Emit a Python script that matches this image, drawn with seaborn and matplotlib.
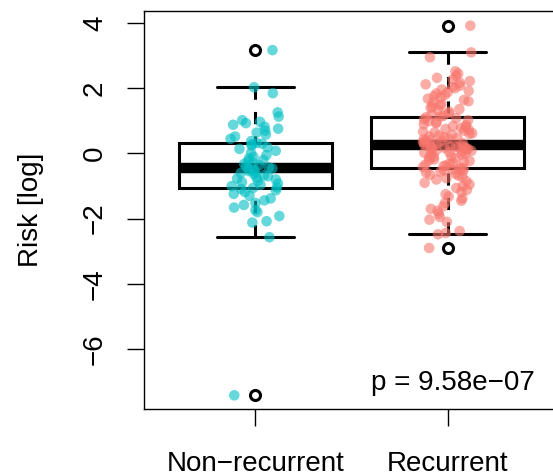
import matplotlib

matplotlib.use("Agg")
import matplotlib.pyplot as plt
import numpy as np
import pandas as pd
import seaborn as sns

# group labels (R prints the hyphen as a minus sign)
GROUPS = ["Non\u2212recurrent", "Recurrent"]
PALETTE = ["#00BFC4", "#F8766D"]
P_LABEL = "p = 9.58e\u221207"

# log risk per patient
NON_RECURRENT = [
    -7.42, -2.57, -2.12, -2.08, -1.92, -1.80, -1.74, -1.66, -1.58, -1.52,
    -1.44, -1.38, -1.30, -1.24, -1.18, -1.13, -1.09, -1.06, -1.04, -1.00,
    -0.96, -0.92, -0.88, -0.84, -0.80, -0.77, -0.74, -0.70, -0.67, -0.63,
    -0.60, -0.57, -0.54, -0.51, -0.48, -0.46, -0.43, -0.40, -0.36, -0.32,
    -0.28, -0.24, -0.20, -0.15, -0.10, -0.05, 0.02, 0.08, 0.14, 0.19,
    0.24, 0.28, 0.30, 0.32, 0.38, 0.45, 0.52, 0.58, 0.64, 0.70,
    0.76, 0.82, 0.88, 0.93, 0.97, 1.02, 1.13, 1.26, 1.85, 2.03,
    3.17,
]
RECURRENT = [
    -2.90, -2.48, -2.44, -2.38, -2.10, -2.03, -1.95, -1.85, -1.76, -1.70,
    -1.62, -1.52, -1.45, -1.38, -1.32, -1.25, -1.18, -1.12, -1.06, -1.00,
    -0.95, -0.90, -0.85, -0.80, -0.76, -0.72, -0.68, -0.65, -0.62, -0.59,
    -0.56, -0.54, -0.52, -0.50, -0.48, -0.46, -0.44, -0.42, -0.39, -0.37,
    -0.34, -0.31, -0.29, -0.26, -0.23, -0.21, -0.18, -0.15, -0.13, -0.10,
    -0.08, -0.05, -0.03, 0.00, 0.02, 0.04, 0.06, 0.08, 0.10, 0.11,
    0.13, 0.14, 0.16, 0.17, 0.18, 0.19, 0.20, 0.21, 0.22, 0.23,
    0.25, 0.27, 0.29, 0.31, 0.33, 0.35, 0.37, 0.39, 0.41, 0.43,
    0.45, 0.48, 0.50, 0.52, 0.55, 0.57, 0.60, 0.62, 0.65, 0.67,
    0.70, 0.72, 0.75, 0.78, 0.81, 0.84, 0.87, 0.90, 0.93, 0.96,
    0.99, 1.02, 1.05, 1.08, 1.11, 1.13, 1.16, 1.20, 1.24, 1.28,
    1.32, 1.36, 1.40, 1.44, 1.48, 1.52, 1.56, 1.60, 1.64, 1.68,
    1.72, 1.76, 1.80, 1.84, 1.88, 1.92, 1.96, 2.00, 2.04, 2.08,
    2.12, 2.17, 2.22, 2.27, 2.32, 2.38, 2.45, 2.52, 2.95, 3.10,
    3.92,
]
Y_TICKS = [-6, -4, -2, 0, 2, 4]


def build_frame() -> pd.DataFrame:
    return pd.DataFrame(
        {
            "group": [GROUPS[0]] * len(NON_RECURRENT) + [GROUPS[1]] * len(RECURRENT),
            "risk": NON_RECURRENT + RECURRENT,
        }
    )


def main() -> None:
    sns.set_theme(style="white")
    plt.rcParams["font.family"] = ["Liberation Sans", "DejaVu Sans"]
    plt.rcParams["text.color"] = "black"
    plt.rcParams["axes.labelcolor"] = "black"
    np.random.seed(7)

    df = build_frame()

    fig = plt.figure(figsize=(5.53, 4.75), dpi=100)
    # right edge sits just past the figure, as in the cropped original
    ax = fig.add_axes([144 / 553, 66 / 475, 415 / 553, 398 / 475])

    sns.boxplot(
        data=df, x="group", y="risk", order=GROUPS, width=0.8,
        color="white", linecolor="black", linewidth=2.2, whis=1.5, ax=ax,
        medianprops=dict(linewidth=7.5, solid_capstyle="butt"),
        whiskerprops=dict(linestyle=(0, (4, 4))),
        flierprops=dict(marker="o", markersize=7.2, markerfacecolor="none",
                        markeredgecolor="black", markeredgewidth=2.2, zorder=4),
    )
    # R draws whiskers from the cap inwards, so start the dashes there
    for line in ax.lines:
        if line.get_linestyle() == "--":
            xd, yd = line.get_data()
            line.set_data(xd[::-1], yd[::-1])

    sns.stripplot(
        data=df, x="group", y="risk", order=GROUPS, hue="group",
        hue_order=GROUPS, palette=PALETTE, jitter=0.13, size=7.6,
        alpha=0.6, linewidth=0, legend=False, zorder=3, ax=ax,
    )

    ax.set_xlim(-0.58, 1.58)
    ax.set_ylim(-7.84, 4.37)
    ax.set_yticks(Y_TICKS)
    ax.set_xlabel("")
    ax.set_ylabel("Risk [log]", fontsize=20, labelpad=27)

    for side in ["left", "bottom", "top", "right"]:
        ax.spines[side].set_color("black")
        ax.spines[side].set_linewidth(1.0)
    ax.tick_params(direction="out", length=12, width=1.0, labelsize=20,
                   colors="black", left=True, bottom=True)
    ax.tick_params(axis="y", labelrotation=90, pad=14)
    ax.tick_params(axis="x", pad=18.5)
    for lab in ax.get_yticklabels():
        lab.set_va("center")

    ax.text(0.942, 0.048, P_LABEL, transform=ax.transAxes, ha="right",
            va="baseline", fontsize=20)

    fig.savefig("out.png", dpi=100)
    plt.close(fig)


if __name__ == "__main__":
    main()
